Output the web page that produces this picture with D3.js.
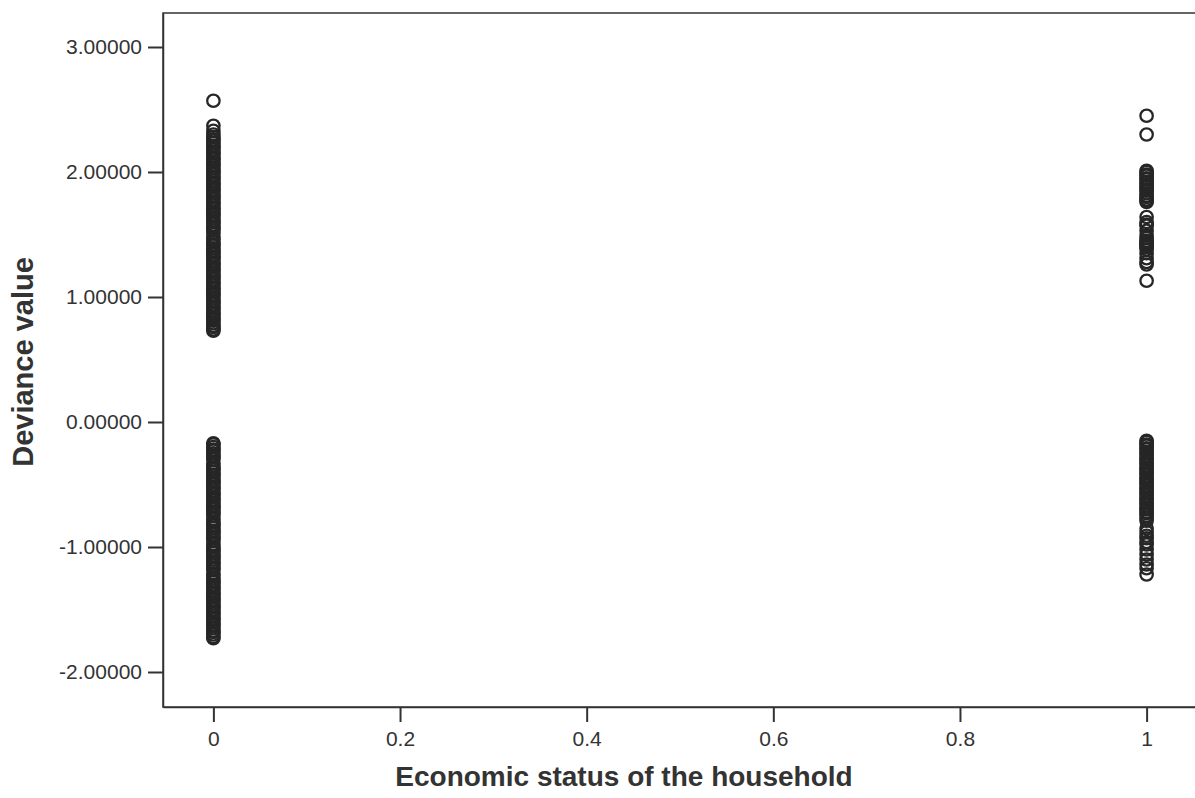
<!DOCTYPE html>
<html>
<head>
<meta charset="utf-8">
<script src="https://cdn.jsdelivr.net/npm/d3@7"></script>
<style>
  body { margin: 0; background: #fff; }
  svg { display: block; }
  .tick text { font-family: "Liberation Sans", Arial, sans-serif; font-size: 21px; fill: #333; }
  .axis-title { font-family: "Liberation Sans", Arial, sans-serif; font-weight: bold; fill: #333; }
</style>
</head>
<body>
<svg id="chart" width="1195" height="798"></svg>
<script>
// deviance values, grouped by economic status (0 / 1)
var poorHigh = [2.57, 2.37, 2.33, 2.30,
    2.28, 2.26, 2.25, 2.23, 2.21, 2.20, 2.18, 2.16, 2.15, 2.13, 2.11, 2.10, 2.08, 2.06, 2.05, 2.03, 2.01, 2.00,
    1.98, 1.96, 1.95, 1.93, 1.91, 1.90, 1.88, 1.86, 1.85, 1.83, 1.81, 1.80, 1.78, 1.76, 1.75, 1.73, 1.71, 1.70,
    1.68, 1.66, 1.65, 1.63, 1.61, 1.60, 1.58, 1.56, 1.55, 1.53, 1.51, 1.48, 1.46, 1.44, 1.42, 1.41, 1.39, 1.37,
    1.36, 1.34, 1.32, 1.31, 1.29, 1.27, 1.26, 1.24, 1.22, 1.21, 1.19, 1.17, 1.16, 1.14, 1.12, 1.11, 1.09, 1.07,
    1.06, 1.04, 1.02, 1.01, 0.99, 0.97, 0.96, 0.94, 0.92, 0.91, 0.89, 0.87, 0.86, 0.84, 0.82, 0.81, 0.79, 0.77,
    0.76, 0.74, 0.73];
var poorLow = [-0.17, -0.18, -0.20, -0.22, -0.23, -0.25, -0.27, -0.28, -0.30, -0.33, -0.35, -0.37, -0.38, -0.40,
    -0.42, -0.43, -0.45, -0.47, -0.48, -0.50, -0.52, -0.53, -0.55, -0.57, -0.58, -0.60, -0.62, -0.63, -0.65,
    -0.67, -0.68, -0.70, -0.72, -0.73, -0.75, -0.78, -0.80, -0.82, -0.83, -0.85, -0.87, -0.88, -0.90, -0.92,
    -0.93, -0.95, -0.98, -1.00, -1.02, -1.03, -1.05, -1.07, -1.08, -1.10, -1.12, -1.13, -1.15, -1.17, -1.18,
    -1.21, -1.23, -1.25, -1.27, -1.28, -1.30, -1.32, -1.33, -1.35, -1.37, -1.38, -1.40, -1.42, -1.43, -1.45,
    -1.47, -1.48, -1.50, -1.52, -1.53, -1.55, -1.57, -1.58, -1.60, -1.62, -1.63, -1.65, -1.67, -1.68, -1.70,
    -1.72, -1.73];
var richHigh = [2.45, 2.30, 2.01, 2.00, 1.98, 1.97, 1.95, 1.94, 1.92, 1.91, 1.89, 1.88, 1.86, 1.85, 1.83, 1.81,
    1.80, 1.78, 1.77, 1.76, 1.64, 1.60, 1.58, 1.57, 1.53, 1.49, 1.47, 1.45, 1.44, 1.43, 1.42, 1.41, 1.40, 1.38,
    1.35, 1.31, 1.28, 1.26, 1.13];
var richLow = [-0.15, -0.16, -0.18, -0.19, -0.21, -0.22, -0.24, -0.25, -0.27, -0.29, -0.30, -0.32, -0.33, -0.35,
    -0.37, -0.38, -0.40, -0.41, -0.43, -0.45, -0.46, -0.48, -0.49, -0.51, -0.53, -0.54, -0.56, -0.57, -0.59,
    -0.61, -0.62, -0.64, -0.65, -0.67, -0.69, -0.70, -0.72, -0.73, -0.75, -0.77, -0.79, -0.85, -0.88, -0.91,
    -0.93, -0.96, -0.98, -1.02, -1.06, -1.10, -1.14, -1.17, -1.22];

var xTicks = [0, 0.2, 0.4, 0.6, 0.8, 1];
var xTickLabels = ["0", "0.2", "0.4", "0.6", "0.8", "1"];
var yTicks = [3, 2, 1, 0, -1, -2];

var points = [];
poorHigh.concat(poorLow).forEach(function (v) { points.push({x: 0, y: v}); });
richHigh.concat(richLow).forEach(function (v) { points.push({x: 1, y: v}); });

var svg = d3.select("#chart"),
    plotLeft = 163, plotTop = 13, plotRight = 1197, plotBottom = 707;

var x = d3.scaleLinear().domain([-0.054, 1.054]).range([plotLeft, plotRight]);
var y = d3.scaleLinear().domain([-2.28, 3.272]).range([plotBottom, plotTop]);

// plain hyphen for negatives, like the original
var fmt = d3.formatLocale({decimal: ".", thousands: ",", grouping: [3], currency: ["", ""], minus: "-"}).format(".5f");

// plot frame
svg.append("rect")
    .attr("x", plotLeft).attr("y", plotTop)
    .attr("width", plotRight - plotLeft).attr("height", plotBottom - plotTop)
    .attr("fill", "#fff")
    .attr("stroke", "#333")
    .attr("stroke-width", 1.5);

var yAxis = svg.append("g")
    .attr("transform", "translate(" + plotLeft + ",0)")
    .call(d3.axisLeft(y).tickValues(yTicks).tickFormat(fmt)
        .tickSizeInner(15).tickSizeOuter(0).tickPadding(6));

var xAxis = svg.append("g")
    .attr("transform", "translate(0," + plotBottom + ")")
    .call(d3.axisBottom(x).tickValues(xTicks)
        .tickFormat(function (d, i) { return xTickLabels[i]; })
        .tickSizeInner(15).tickSizeOuter(0).tickPadding(9));

[xAxis, yAxis].forEach(function (a) {
    a.select(".domain").attr("stroke", "#333").attr("stroke-width", 1.5);
    a.selectAll(".tick line").attr("stroke", "#333").attr("stroke-width", 2);
});

svg.append("g")
    .selectAll("circle")
    .data(points)
    .enter().append("circle")
    .attr("cx", function (d) { return x(d.x); })
    .attr("cy", function (d) { return y(d.y); })
    .attr("r", 6.2)
    .attr("fill", "none")
    .attr("stroke", "#262626")
    .attr("stroke-width", 2.3);

svg.append("text")
    .attr("class", "axis-title")
    .attr("x", 624).attr("y", 786)
    .style("font-size", "28px")
    .attr("text-anchor", "middle")
    .text("Economic status of the household");

svg.append("text")
    .attr("class", "axis-title")
    .attr("transform", "translate(33,362) rotate(-90)")
    .style("font-size", "29px")
    .attr("text-anchor", "middle")
    .text("Deviance value");
</script>
</body>
</html>
